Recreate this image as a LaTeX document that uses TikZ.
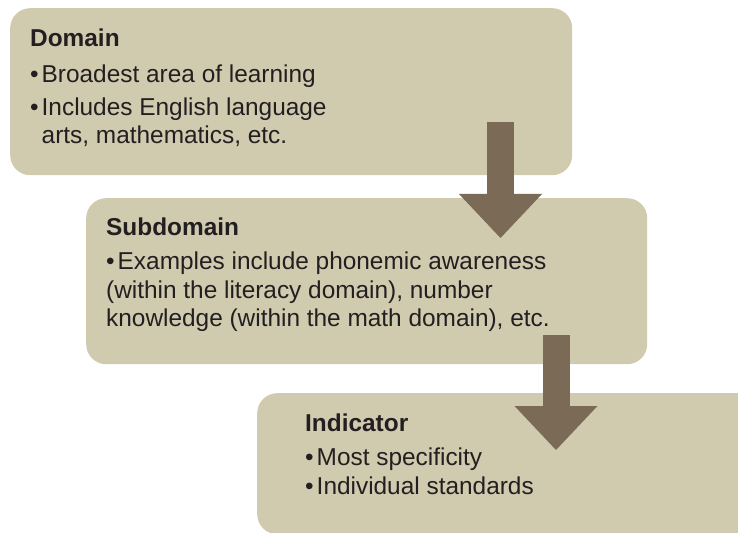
\documentclass[tikz,border=0pt]{standalone}
\usepackage{fontspec}
\setmainfont{Liberation Sans}
\usetikzlibrary{arrows.meta}

\definecolor{boxfill}{HTML}{D0CAAF}
\definecolor{arrowfill}{HTML}{7B6A55}
\definecolor{inktext}{HTML}{231F20}

\newcommand{\bul}{\textbullet\kern3bp}

\tikzset{
  levelbox/.style={shape=rectangle, fill=boxfill, rounded corners=20bp, inner sep=0pt, anchor=north west},
  leveltext/.style={anchor=base west, inner sep=0pt, align=left, text=inktext,
    font=\fontsize{24.4bp}{28.4bp}\selectfont},
  downarrow/.style={draw=arrowfill, line width=27bp, -{Triangle[width=83bp, length=44bp, line width=0pt]}}
}

\begin{document}
\begin{tikzpicture}[x=1bp, y=-1bp]
\useasboundingbox (0,0) rectangle (738,533);
\clip (0,0) rectangle (738,533);

% the three levels
\node[levelbox, minimum width=562bp, minimum height=167bp](domain) at (10,8) {};
\node[levelbox, minimum width=561bp, minimum height=166bp](subdomain) at (86,198) {};
\node[levelbox, minimum width=520bp, minimum height=141bp](indicator) at (257,393) {};

% text sits on the baseline of its last line
\node[leveltext](domaintext) at (30,144) {\textbf{Domain}\\[7.5bp]
  \bul Broadest area of learning\\[4.5bp]
  \bul Includes English language\\
  \hphantom{\bul}arts, mathematics, etc.};
\node[leveltext](subdomaintext) at (106,326.7) {\textbf{Subdomain}\\[5.8bp]
  \bul Examples include phonemic awareness\\
  (within the literacy domain), number\\
  knowledge (within the math domain), etc.};
\node[leveltext](indicatortext) at (305,494.3) {\textbf{Indicator}\\[6.5bp]
  \bul Most specificity\\
  \bul Individual standards};

% arrows between levels
\coordinate (d2s) at (500.5,122);
\coordinate (s2d) at (500.5,238);
\coordinate (s2i) at (556,335);
\coordinate (i2s) at (556,450);
\draw[downarrow] (d2s) -- (s2d);
\draw[downarrow] (s2i) -- (i2s);
\end{tikzpicture}
\end{document}
